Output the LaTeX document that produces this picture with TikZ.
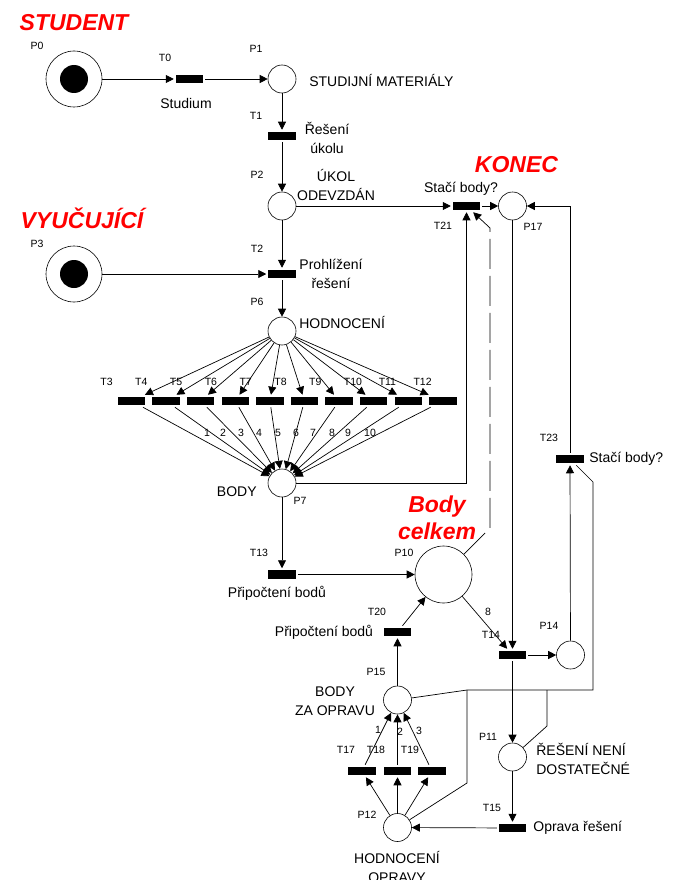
\documentclass[tikz,border=0pt]{standalone}
\usepackage{fontspec}
\setmainfont{Liberation Sans}
\usetikzlibrary{arrows.meta,positioning}

\begin{document}
\begin{tikzpicture}[
    x=1pt, y=-1pt,
    line width=0.7pt,
    place/.style={draw, circle, minimum size=28pt, inner sep=0pt, line width=0.6pt},
    tokplace/.style={place, minimum size=56pt},
    trans/.style={fill=black, minimum width=27.5pt, minimum height=8.5pt, inner sep=0pt, outer sep=2pt},
    flow/.style={-{Triangle[length=8pt,width=8pt]}},
    lbl/.style={font=\fontsize{10.5}{12}\selectfont, inner sep=0pt},
    txt/.style={font=\fontsize{14}{19}\selectfont, inner sep=0pt, align=center},
    role/.style={font=\fontsize{23}{27}\selectfont\bfseries\itshape, text=red, inner sep=0pt, align=center}
]
\useasboundingbox (0,0) rectangle (680,880);

\node[role] (student) at (74,23) {STUDENT};
\node[role] (vyuc) at (82,218.5) {VYUČUJÍCÍ};
\node[role] (konec) at (516.5,165) {KONEC};
\node[role] (celkem) at (437,518) {Body\\celkem};

\node[tokplace] (P0) at (74,79) {};
\node[tokplace] (P3) at (74,274) {};
\node[place] (P1) at (282,79) {};
\node[place] (P2) at (282,206) {};
\node[place] (P6) at (282,331) {};
\node[place] (P7) at (282,483) {};
\node[place, minimum size=57pt] (P10) at (443.5,574.5) {};
\node[place] (P17) at (512.5,206) {};
\node[place] (P14) at (570.5,655) {};
\node[place] (P11) at (512.5,757) {};
\node[place] (P15) at (397.5,700) {};
\node[place] (P12) at (397.5,827.5) {};
\foreach \p in {P0,P3} \fill (\p.center) circle (14pt);

\node[trans] (T0) at (189.5,79) {};
\node[trans] (T1) at (282,136) {};
\node[trans] (T2) at (282,274) {};
\foreach \i in {3,...,12} \node[trans] (T\i) at ({131.5+(\i-3)*34.6},401) {};
\node[trans] (T13) at (282,574.5) {};
\node[trans] (T14) at (512.5,655) {};
\node[trans] (T15) at (512.5,828) {};
\node[trans] (T17) at (362,771) {};
\node[trans] (T18) at (397.5,771) {};
\node[trans] (T19) at (432,771) {};
\node[trans] (T20) at (397.5,632) {};
\node[trans] (T21) at (466.5,206) {};
\node[trans] (T23) at (570,459) {};

\node[lbl] (lP0) at (37,46) {P0};
\node[lbl] (lT0) at (165,58) {T0};
\node[lbl] (lP1) at (256,49) {P1};
\node[lbl] (lT1) at (256,116) {T1};
\node[lbl] (lP2) at (257,175) {P2};
\node[lbl] (lP3) at (37,244) {P3};
\node[lbl] (lT2) at (257,249) {T2};
\node[lbl] (lP6) at (257,302) {P6};
\node[lbl] (lP7) at (300,501) {P7};
\node[lbl] (lT13) at (259,553) {T13};
\node[lbl] (lP10) at (404,553) {P10};
\node[lbl] (lT20) at (377,612) {T20};
\node[lbl] (lT14) at (491,635) {T14};
\node[lbl] (lP14) at (549,626) {P14};
\node[lbl] (lT23) at (549,438) {T23};
\node[lbl] (lT21) at (443,226) {T21};
\node[lbl] (lP17) at (533,227) {P17};
\node[lbl] (lP15) at (376,672) {P15};
\node[lbl] (lT17) at (346,750) {T17};
\node[lbl] (lT18) at (376,750) {T18};
\node[lbl] (lT19) at (410,750) {T19};
\node[lbl] (lP12) at (367,815) {P12};
\node[lbl] (lP11) at (488,737) {P11};
\node[lbl] (lT15) at (492,808) {T15};
\foreach \i in {3,...,12} \node[lbl, anchor=west] (lT\i) at ({100+(\i-3)*34.8},382) {T\i};
\foreach \w/\x in {1/207,2/223,3/241,4/259,5/278,6/296,7/313,8/332,9/348,10/370}
  \node[lbl] (w\w) at (\x,433) {\w};
\node[lbl] (w14) at (488,612) {8};
\node[lbl] (wr1) at (378,730) {1};
\node[lbl] (wr2) at (400,732) {2};
\node[lbl] (wr3) at (419,731) {3};

\node[txt] (studium) at (186,103) {Studium};
\node[txt, anchor=west] (material) at (309,80) {STUDIJNÍ MATERIÁLY};
\node[txt] (reseni) at (327,137.5) {Řešení\\úkolu};
\node[txt] (odevzdan) at (336,185) {ÚKOL\\ODEVZDÁN};
\node[txt] (stacia) at (461,189) {Stačí body?};
\node[txt] (prohl) at (331,273.5) {Prohlížení\\řešení};
\node[txt, anchor=west] (hodn) at (299,322) {HODNOCENÍ};
\node[txt, anchor=east] (body) at (257,492) {BODY};
\node[txt] (pripA) at (277,593) {Připočtení bodů};
\node[txt] (pripB) at (324,632) {Připočtení bodů};
\node[txt, anchor=west] (stacib) at (589,459) {Stačí body?};
\node[txt] (zaopr) at (335,701.5) {BODY\\ZA OPRAVU};
\node[txt, align=left, anchor=west] (nedost) at (536,759) {ŘEŠENÍ NENÍ\\DOSTATEČNÉ};
\node[txt, anchor=west] (oprava) at (533,828) {Oprava řešení};
\node[txt] (hodnopr) at (397,866.5) {HODNOCENÍ\\OPRAVY};

\draw[flow] (P0) -- (T0);
\draw[flow] (T0) -- (P1);
\draw[flow] (P1) -- (T1);
\draw[flow] (T1) -- (P2);
\draw[flow] (P2) -- (T21);
\draw[flow] (T21) -- (P17);
\draw[flow] (P2) -- (T2);
\draw[flow] (P3) -- (T2);
\draw[flow] (T2) -- (P6);
\foreach \i in {3,...,12} {
  \draw[flow] (P6) -- (T\i);
  \draw[flow] (T\i) -- (P7);
}
\draw[flow] (P7) -- (T13);
\draw[flow] (P7) -| (T21);
\draw[flow] (T13) -- (P10);
\draw[flow] (P10) -- (T14);
\draw[flow] (P17) -- (T14);
\draw[flow] (T14) -- (P14);
\draw[flow] (T14) -- (P11);
\draw[flow] (P14) -- (T23);
\draw[flow] (T23) |- (P17);
\draw[flow] (P11) -- (T15);
\draw[flow] (T15) -- (P12);
\foreach \t in {T17,T18,T19} {
  \draw[flow] (P12) -- (\t);
  \draw[flow] (\t) -- (P15);
}
\draw[flow] (P15) -- (T20);
\draw[flow] (T20) -- (P10);

\coordinate (d1) at (490,528);
\coordinate (d2) at (490,228);
\draw[flow, dash pattern=on 30pt off 7pt] (P10) -- (d1) -- (d2) -- (T21);

\coordinate (j1) at (467,690);
\coordinate (j2) at (593,690);
\coordinate (j3) at (593,482);
\coordinate (k1) at (467,783);
\coordinate (k2) at (547,726);
\coordinate (k3) at (547,690);
\draw (P15) -- (j1) -- (j2) -- (j3) -- (T23);
\draw (P12) -- (k1) -- (j1);
\draw (P11) -- (k2) -- (k3);
\end{tikzpicture}
\end{document}
